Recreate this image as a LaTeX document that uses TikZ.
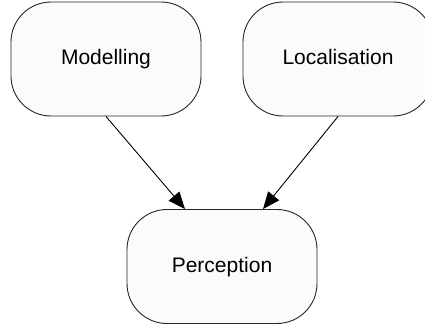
\documentclass[tikz,border=0pt]{standalone}
\usepackage{fontspec}
\setmainfont{Liberation Sans}
\usetikzlibrary{arrows.meta}
\begin{document}
\begin{tikzpicture}[x=1pt,y=1pt,
  stage/.style={draw=black!85, line width=0.9pt, fill=black!1.5,
    rounded corners=40pt, minimum width=190pt, minimum height=114pt,
    inner sep=0pt, text height=15pt, text depth=4pt,
    font=\fontsize{21}{25}\selectfont},
  link/.style={draw=black, line width=0.9pt,
    -{Triangle[length=17pt,width=14pt]}}]
  \useasboundingbox (0,0) rectangle (425,-330);
  \node[stage] (mod) at (106,-59) {Modelling};
  \node[stage] (loc) at (338,-59) {Localisation};
  \node[stage] (per) at (222,-266.5) {Perception};
  \draw[link] (mod.south) -- ([xshift=-37pt]per.north);
  \draw[link] (loc.south) -- ([xshift=41pt]per.north);
\end{tikzpicture}
\end{document}
